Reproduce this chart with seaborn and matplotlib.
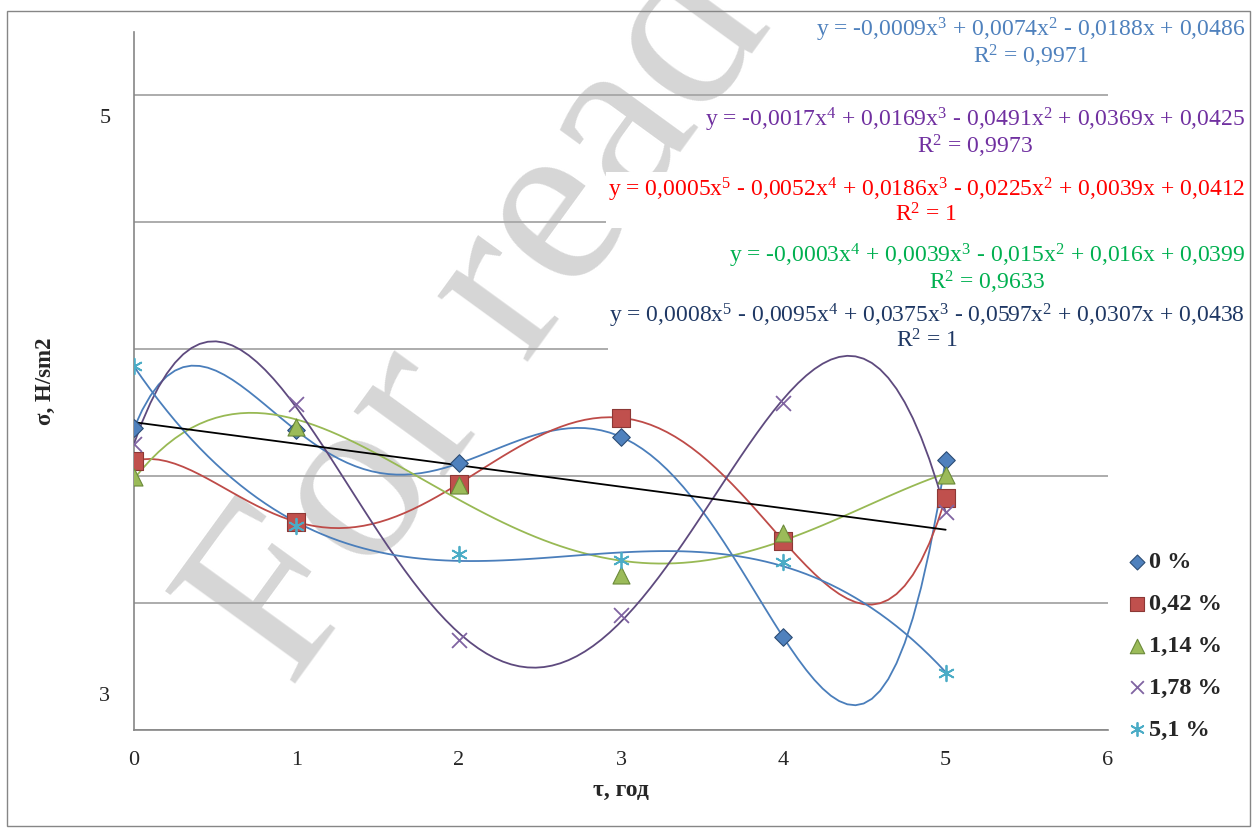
import numpy as np
import pandas as pd
import matplotlib
matplotlib.use("Agg")
import matplotlib.pyplot as plt
from matplotlib.patches import Rectangle
import seaborn as sns

# ---------------- data ----------------
tau = [0, 1, 2, 3, 4, 5]
s_0 = [0.0438, 0.0436, 0.0410, 0.0431, 0.0273, 0.0413]
s_042 = [0.0412, 0.0364, 0.0394, 0.0446, 0.0349, 0.0383]
s_114 = [0.0399, 0.0439, 0.0393, 0.0322, 0.0355, 0.0401]
s_178 = [0.0425, 0.0457, 0.0271, 0.0291, 0.0458, 0.0372]
s_51 = [0.0487, 0.0361, 0.0339, 0.0334, 0.0332, 0.0245]

series_labels = ["0 %", "0,42 %", "1,14 %", "1,78 %", "5,1 %"]
trend_orders = [5, 5, 4, 4, 3]

eq_texts = [
    r"y = -0,0009x$^{3}$ + 0,0074x$^{2}$ - 0,0188x + 0,0486" + "\n" + r"R$^{2}$ = 0,9971",
    r"y = -0,0017x$^{4}$ + 0,0169x$^{3}$ - 0,0491x$^{2}$ + 0,0369x + 0,0425" + "\n" + r"R$^{2}$ = 0,9973",
    r"y = 0,0005x$^{5}$ - 0,0052x$^{4}$ + 0,0186x$^{3}$ - 0,0225x$^{2}$ + 0,0039x + 0,0412" + "\n" + r"R$^{2}$ = 1",
    r"y = -0,0003x$^{4}$ + 0,0039x$^{3}$ - 0,015x$^{2}$ + 0,016x + 0,0399" + "\n" + r"R$^{2}$ = 0,9633",
    r"y = 0,0008x$^{5}$ - 0,0095x$^{4}$ + 0,0375x$^{3}$ - 0,0597x$^{2}$ + 0,0307x + 0,0438" + "\n" + r"R$^{2}$ = 1",
]
eq_colors = ["#4F81BD", "#7030A0", "#FF0000", "#00B050", "#1F3864"]

x_ticks = [0, 1, 2, 3, 4, 5, 6]
y_grid = [0.02, 0.03, 0.04, 0.05, 0.06, 0.07]
y_label_pos = [0.0684, 0.0228]
y_label_txt = ["5", "3"]

# ---------------- style ----------------
sns.set_style("white")
serif = ["Liberation Serif", "DejaVu Serif"]
plt.rcParams["font.family"] = serif
plt.rcParams["mathtext.fontset"] = "custom"
plt.rcParams["mathtext.rm"] = "Liberation Serif"
plt.rcParams["mathtext.it"] = "Liberation Serif"
plt.rcParams["mathtext.bf"] = "Liberation Serif:bold"
plt.rcParams["mathtext.default"] = "regular"

W, H = 1255, 832
fig = plt.figure(figsize=(W / 100, H / 100), dpi=100)
fig.patch.set_facecolor("white")

# outer chart border
fig.add_artist(Rectangle((7 / W, 1 - 826 / H), (1250 - 7) / W, (826 - 11) / H,
                         transform=fig.transFigure, fill=False,
                         edgecolor="#868686", linewidth=1.0, zorder=0))

ax = fig.add_axes([134 / W, 1 - 730 / H, (1108 - 134) / W, (730 - 32) / H])
ax.patch.set_visible(False)

# watermark
fig.text(290 / W, 1 - 690 / H, "For read", fontsize=176, color="#D6D6D6",
         rotation=54, rotation_mode="anchor", ha="left", va="baseline",
         family=serif, zorder=-5)

series = [s_0, s_042, s_114, s_178, s_51]
line_colors = ["#4A7EBB", "#BE4B48", "#98B954", "#5E4A7E", "#4A7EBB"]
markers = ["D", "s", "^", "x", (6, 2, 0)]
m_face = ["#4F81BD", "#C0504D", "#9BBB59", "#8064A2", "#4BACC6"]
m_edge = ["#2C4D75", "#8C3836", "#6B8A3A", "#8064A2", "#4BACC6"]
m_size = [80, 150, 150, 115, 125]
m_lw = [0.8, 0.8, 0.8, 1.3, 1.3]

# trendlines
for vals, order, col in zip(series, trend_orders, line_colors):
    sns.regplot(x=tau, y=vals, order=order, ci=None, scatter=False, ax=ax,
                line_kws=dict(color=col, linewidth=1.3, zorder=3))
sns.regplot(x=tau, y=s_0, order=1, ci=None, scatter=False, ax=ax,
            line_kws=dict(color="black", linewidth=1.3, zorder=3))

# points
handles = []
for vals, lab, mk, fc, ec, sz, lw in zip(series, series_labels, markers, m_face, m_edge, m_size, m_lw):
    if mk == "x" or isinstance(mk, tuple):
        h = ax.scatter(tau, vals, marker=mk, s=sz, color=fc, linewidths=lw, zorder=5, label=lab)
    else:
        h = ax.scatter(tau, vals, marker=mk, s=sz, facecolor=fc, edgecolor=ec, linewidths=lw, zorder=5, label=lab)
    handles.append(h)

# axes
ax.set_xlim(0, 6)
ax.set_ylim(0.02, 0.075)
ax.set_xticks(x_ticks)
ax.set_xticklabels([str(t) for t in x_ticks], fontsize=16)
ax.set_yticks(y_grid)
ax.set_yticklabels([""] * len(y_grid))
ax.set_yticks(y_label_pos, minor=True)
ax.set_yticklabels(y_label_txt, minor=True, fontsize=16)
ax.tick_params(axis="y", which="minor", length=0, pad=17)
ax.tick_params(axis="y", which="major", length=6, width=1, color="#868686", direction="out")
ax.tick_params(axis="x", length=6, width=1, color="#868686", direction="out", pad=9)
ax.grid(axis="y", which="major", color="#A6A6A6", linewidth=1.3, zorder=1)
ax.grid(axis="x", visible=False)
ax.set_axisbelow(True)
for sp in ["top", "right"]:
    ax.spines[sp].set_visible(False)
for sp in ["left", "bottom"]:
    ax.spines[sp].set_color("#868686")
    ax.spines[sp].set_linewidth(1.2)

ax.set_xlabel("τ, год", fontsize=17, fontweight="bold")
ax.xaxis.set_label_coords(0.5, -0.072)
ax.set_ylabel("σ, H/sm2", fontsize=16.5, fontweight="bold")
ax.yaxis.label.set_va("center")
ax.yaxis.set_label_coords(-0.0914, 0.5)

# equations
eq_y = [43, 133, 201, 269, 327]
for txt, col, yy in zip(eq_texts, eq_colors, eq_y):
    fig.text(1245 / W, 1 - yy / H, txt, color=col, fontsize=17, ha="right", va="center",
             multialignment="center", linespacing=0.98, family=serif, zorder=6,
             bbox=dict(facecolor="white", edgecolor="none", pad=1))

# legend
leg = fig.legend(handles=handles, labels=series_labels, loc="upper left",
                 bbox_to_anchor=(1128 / W, 1 - 551 / H), borderaxespad=0, borderpad=0,
                 frameon=False, handlelength=0.7, handletextpad=0.15, labelspacing=0.82,
                 markerscale=0.85, prop=dict(family=serif, weight="bold", size=17.5))

fig.savefig("out.png", dpi=100)
